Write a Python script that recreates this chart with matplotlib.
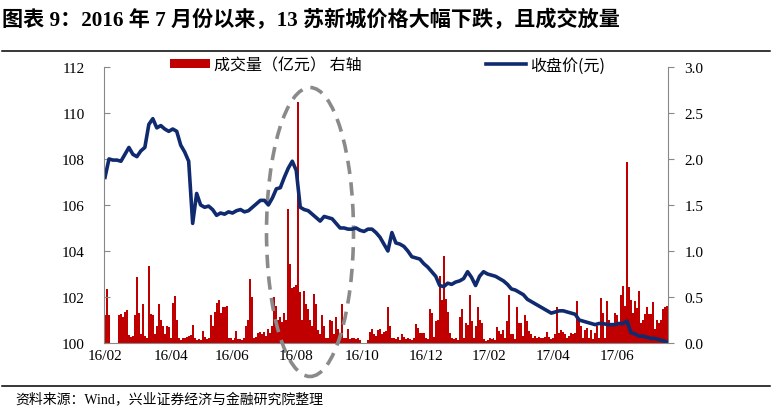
import numpy as np
import matplotlib
matplotlib.use('Agg')
import matplotlib.pyplot as plt
from matplotlib.patches import Ellipse, Patch
from matplotlib.lines import Line2D
from matplotlib.transforms import IdentityTransform

plt.rcParams['font.family'] = ['Liberation Serif', 'Noto Sans CJK SC']

# daily turnover (100m yuan), right axis
volume = [0.30, 0.59, 0.30, 0, 0, 0, 0, 0.30, 0.32, 0.28,
          0.34, 0.36, 0.09, 0.07, 0.08, 0.30, 0.72, 0.33, 0.10, 0.42,
          0.08, 0.06, 0.84, 0.32, 0.30, 0.10, 0.18, 0.42, 0.25, 0.18,
          0.10, 0.18, 0.17, 0.05, 0.43, 0.51, 0.25, 0.05, 0.03, 0.05,
          0.06, 0.07, 0.08, 0.09, 0.20, 0.06, 0.03, 0.04, 0.03, 0.13,
          0.07, 0.04, 0.05, 0.30, 0.18, 0.34, 0.43, 0.47, 0.33, 0.39,
          0.39, 0.40, 0.05, 0.06, 0.03, 0.05, 0.13, 0.04, 0.04, 0.03,
          0.05, 0.18, 0.25, 0.70, 0.50, 0.06, 0.07, 0.11, 0.12, 0.10,
          0.12, 0.08, 0.15, 0.11, 0.18, 0.50, 0.40, 0.25, 0.28, 0.23,
          0.33, 0.25, 1.46, 0.86, 0.60, 0.61, 0.63, 2.62, 0.55, 0.25,
          0.56, 0.42, 0.37, 0.25, 0.18, 0.53, 0.42, 0.14, 0.10, 0.30,
          0.18, 0.06, 0.05, 0.25, 0.24, 0.10, 0.28, 0.15, 0.08, 0.42,
          0.05, 0.06, 0.15, 0.04, 0.05, 0.05, 0.04, 0.05, 0.03, 0,
          0, 0, 0.03, 0.12, 0.15, 0.10, 0.08, 0.14, 0.15, 0.10,
          0.12, 0.13, 0.39, 0.18, 0.05, 0.06, 0.04, 0.07, 0.03, 0.10,
          0.07, 0.04, 0.06, 0.04, 0.03, 0.05, 0.21, 0.16, 0.11, 0.11,
          0.11, 0.05, 0.04, 0.37, 0.33, 0.07, 0.24, 0.25, 0.73, 0.47,
          0.95, 0.48, 0.34, 0.11, 0.05, 0.04, 0.06, 0.03, 0.28, 0.37,
          0.05, 0.22, 0.20, 0.52, 0.24, 0.06, 0.18, 0.39, 0.25, 0.22,
          0.04, 0.02, 0.03, 0.05, 0.04, 0.06, 0.03, 0.17, 0.13, 0.10,
          0.14, 0.06, 0.24, 0.52, 0.10, 0.10, 0.04, 0.39, 0.22, 0.22,
          0.08, 0.30, 0.24, 0.13, 0.10, 0.05, 0.08, 0.06, 0.07, 0.05,
          0.06, 0.07, 0.12, 0.07, 0.04, 0.05, 0.10, 0.39, 0.11, 0.14,
          0.12, 0.10, 0.05, 0.08, 0.11, 0.10, 0.11, 0.46, 0.25, 0.18,
          0.06, 0.14, 0.16, 0.05, 0.14, 0.04, 0.11, 0.18, 0.05, 0.49,
          0.33, 0.05, 0.46, 0.25, 0.20, 0.18, 0.33, 0.30, 0.22, 0.52,
          0.62, 0.40, 1.97, 0.61, 0.47, 0.33, 0.46, 0.38, 0.57, 0.22,
          0.25, 0.32, 0.39, 0.32, 0.32, 0.45, 0.15, 0.25, 0.22, 0.25,
          0.37, 0.39, 0.40]

# closing price (yuan), every second trading day, left axis
close = [107.2, 108.0, 107.95, 107.95, 107.9, 108.2, 108.5, 108.2, 108.1, 108.35,
         108.5, 109.5, 109.75, 109.35, 109.45, 109.3, 109.2, 109.3, 109.2, 108.6,
         108.3, 107.9, 105.2, 106.5, 106.0, 105.9, 105.95, 105.8, 105.55, 105.65,
         105.6, 105.7, 105.65, 105.75, 105.8, 105.7, 105.75, 105.9, 106.05, 106.2,
         106.2, 106.0, 106.3, 106.7, 106.75, 107.2, 107.6, 107.9, 107.5, 105.9,
         105.8, 105.75, 105.6, 105.45, 105.3, 105.5, 105.45, 105.4, 105.2, 105.0,
         105.0, 104.95, 104.95, 105.0, 104.9, 104.85, 104.95, 104.95, 104.8, 104.6,
         104.3, 104.0, 104.8, 104.35, 104.3, 104.2, 104.0, 103.75, 103.7, 103.65,
         103.45, 103.3, 103.1, 102.9, 102.5, 102.45, 102.6, 102.55, 102.65, 102.7,
         102.8, 103.1, 102.85, 102.5, 102.9, 103.1, 103.0, 102.95, 102.9, 102.8,
         102.7, 102.55, 102.35, 102.3, 102.2, 102.1, 101.9, 101.8, 101.7, 101.6,
         101.5, 101.4, 101.3, 101.35, 101.4, 101.4, 101.35, 101.3, 101.25, 101.0,
         100.95, 100.9, 100.85, 100.8, 100.85, 100.85, 100.8, 100.8, 100.8, 100.85,
         100.85, 100.95, 100.45, 100.4, 100.3, 100.3, 100.25, 100.2, 100.2, 100.15,
         100.1, 100.05]

tick_pos = [0, 33, 64, 96, 129, 161, 193, 225, 257]
tick_labels = ['16/02', '16/04', '16/06', '16/08', '16/10',
               '16/12', '17/02', '17/04', '17/06']

title = '图表 9：2016 年 7 月份以来，13 苏新城价格大幅下跌，且成交放量'
source = '资料来源：Wind，兴业证券经济与金融研究院整理'

red = '#C00000'
navy = '#0f2a6e'
grey = '#8a8a8a'

fig = plt.figure(figsize=(7.82, 4.14), dpi=100)
ax = fig.add_axes([0.133, 0.169, 0.721, 0.667])
axr = ax.twinx()
ax.set_zorder(axr.get_zorder() + 1)
ax.patch.set_visible(False)

axr.bar(np.arange(len(volume)), volume, width=1.0, color=red, linewidth=0,
        antialiased=False)
ax.plot(np.arange(len(close)) * 2, close, color=navy, lw=2.6, solid_joinstyle='round')

ax.set_xlim(-0.5, len(volume) - 0.5)
ax.set_ylim(100, 112)
ax.set_yticks(np.arange(100, 113, 2))
axr.set_ylim(0, 3)
axr.set_yticks(np.arange(0, 3.01, 0.5))
axr.set_yticklabels([f'{v:.1f}' for v in np.arange(0, 3.01, 0.5)])
ax.set_xticks(tick_pos)
ax.set_xticklabels(tick_labels)

for a in (ax, axr):
    a.spines['top'].set_visible(False)
    for s in a.spines.values():
        s.set_color('#888888')
ax.spines['right'].set_visible(False)
axr.spines['left'].set_visible(False)
axr.spines['bottom'].set_visible(False)

ax.tick_params(axis='y', direction='in', length=4, pad=14, labelsize=11, color='#888888')
ax.tick_params(axis='x', length=0, pad=4, labelsize=11)
axr.tick_params(axis='y', direction='out', length=4, pad=8, labelsize=11, color='#888888')

# dashed ring around Aug 2016
fig.add_artist(Ellipse((310, 414 - 233), 87, 289, transform=IdentityTransform(),
                       fill=False, ec=grey, lw=2.6, ls=(0, (3.7, 2.3))))

handles = [Patch(facecolor=red, label='成交量（亿元） 右轴'),
           Line2D([], [], color=navy, lw=2.6, label='收盘价(元)')]
fig.legend(handles=handles, loc='center left', bbox_to_anchor=(170 / 782, 1 - 66 / 414),
           ncol=2, frameon=False, prop={'family': ['Noto Sans CJK SC'], 'size': 11.5},
           handlelength=2.5, handleheight=0.5, handletextpad=0.25, columnspacing=7.8,
           borderpad=0, borderaxespad=0)

fig.text(0.003, 1 - 20 / 414, title, fontsize=15.2, fontweight='bold', va='center', ha='left')
fig.add_artist(Line2D([0.003, 0.985], [1 - 52 / 414] * 2, color='black', lw=1.1))
fig.add_artist(Line2D([0.003, 0.985], [1 - 386.5 / 414] * 2, color='black', lw=1.1))
fig.text(15 / 782, 1 - 400 / 414, source, fontsize=10, va='center', ha='left')

fig.savefig('out.png', dpi=100)
